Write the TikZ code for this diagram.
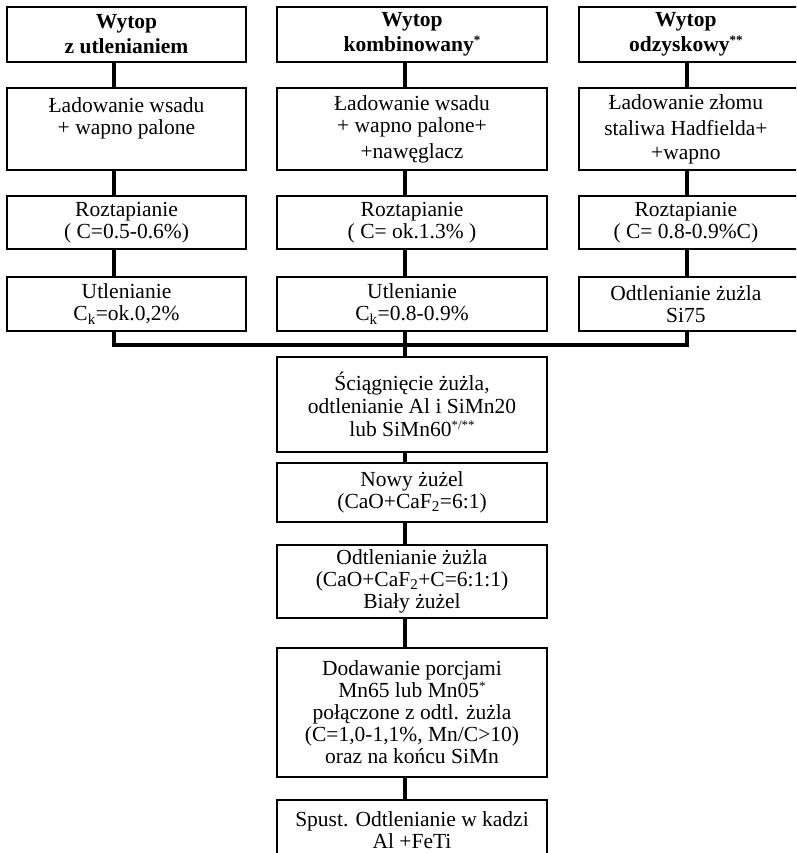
\documentclass[tikz,border=0pt]{standalone}
\usepackage{fontspec}
\setmainfont{Liberation Serif}
\newcommand{\supst}[1]{\raisebox{0.33em}{\fontsize{13}{13}\selectfont #1}}
\begin{document}
\begin{tikzpicture}[x=1pt,y=-1pt,
  box/.style={draw, line width=1.7pt, inner sep=0pt, align=center,
    font=\fontsize{21.5}{22}\selectfont},
  headbox/.style={box, font=\fontsize{21.5}{25}\selectfont\bfseries},
  conn/.style={line width=3.5pt}]
\clip (0,0) rectangle (796,853);
% columns
\coordinate (xL) at (114,0);
\coordinate (xM) at (405,0);
\coordinate (xR) at (687,0);
\coordinate (busy) at (0,345);
% row 1
\node[headbox, minimum width=239pt, minimum height=55pt] (a1) at (126.5,34.5) {Wytop\\z utlenianiem};
\node[headbox, minimum width=270pt, minimum height=55pt] (b1) at (412,34.5) {Wytop\\kombinowany\supst{*}};
\node[headbox, minimum width=232pt, minimum height=55pt, anchor=west] (c1) at (578,34.5) {\hspace*{-18pt}Wytop\\\hspace*{-18pt}odzyskowy\supst{**}};
% row 2
\node[box, minimum width=239pt, minimum height=82pt] (a2) at (126.5,129) {Ładowanie wsadu\\+ wapno palone\\[4pt]\mbox{}};
\node[box, minimum width=270pt, minimum height=82pt] (b2) at (412,129) {Ładowanie wsadu\\+ wapno palone+\\[4pt]+nawęglacz};
\node[box, minimum width=232pt, minimum height=82pt, anchor=west] (c2) at (578,129) {\hspace*{-18pt}Ładowanie złomu\\[4pt]\hspace*{-18pt}staliwa Hadfielda+\\[2pt]\hspace*{-18pt}+wapno};
% row 3
\node[box, minimum width=239pt, minimum height=53pt] (a3) at (126.5,222.5) {Roztapianie\\( C=0.5-0.6\%)};
\node[box, minimum width=270pt, minimum height=53pt] (b3) at (412,222.5) {Roztapianie\\( C= ok.1.3\% )};
\node[box, minimum width=232pt, minimum height=53pt, anchor=west] (c3) at (578,222.5) {\hspace*{-18pt}Roztapianie\\\hspace*{-18pt}( C= 0.8-0.9\%C)};
% row 4
\node[box, minimum width=239pt, minimum height=54pt] (a4) at (126.5,304) {Utlenianie\\C\textsubscript{k}=ok.0,2\%};
\node[box, minimum width=270pt, minimum height=54pt] (b4) at (412,304) {Utlenianie\\C\textsubscript{k}=0.8-0.9\%};
\node[box, minimum width=232pt, minimum height=54pt, anchor=west] (c4) at (578,304) {\hspace*{-18pt}Odtlenianie żużla\\\hspace*{-18pt}Si75};
% centre chain
\node[box, minimum width=270pt, minimum height=95pt] (m1) at (412,404.5) {Ściągnięcie żużla,\\[1pt]odtlenianie Al i SiMn20\\[1pt]lub SiMn60\supst{*/**}};
\node[box, minimum width=270pt, minimum height=59pt] (m2) at (412,492.5) {Nowy żużel\\(CaO+CaF\textsubscript{2}=6:1)};
\node[box, minimum width=270pt, minimum height=73pt] (m3) at (412,581.5) {Odtlenianie żużla\\(CaO+CaF\textsubscript{2}+C=6:1:1)\\Biały żużel};
\node[box, minimum width=270pt, minimum height=129pt] (m4) at (412,712.5) {Dodawanie porcjami\\Mn65 lub Mn05\supst{*}\\połączone z odtl. żużla\\(C=1,0-1,1\%, Mn/C>10)\\oraz na końcu SiMn};
\node[box, minimum width=270pt, minimum height=60pt] (m5) at (412,830) {Spust. Odtlenianie w kadzi\\Al +FeTi};
% connectors
\draw[conn] (a1.south -| xL) -- (a2.north -| xL);
\draw[conn] (a2.south -| xL) -- (a3.north -| xL);
\draw[conn] (a3.south -| xL) -- (a4.north -| xL);
\draw[conn] (b1.south -| xM) -- (b2.north -| xM);
\draw[conn] (b2.south -| xM) -- (b3.north -| xM);
\draw[conn] (b3.south -| xM) -- (b4.north -| xM);
\draw[conn] (c1.south -| xR) -- (c2.north -| xR);
\draw[conn] (c2.south -| xR) -- (c3.north -| xR);
\draw[conn] (c3.south -| xR) -- (c4.north -| xR);
\draw[conn, line join=miter] (a4.south -| xL) -- (xL |- busy) -- (xR |- busy) -- (c4.south -| xR);
\draw[conn] (b4.south -| xM) -- (m1.north -| xM);
\draw[conn] (m1.south -| xM) -- (m2.north -| xM);
\draw[conn] (m2.south -| xM) -- (m3.north -| xM);
\draw[conn] (m3.south -| xM) -- (m4.north -| xM);
\draw[conn] (m4.south -| xM) -- (m5.north -| xM);
\end{tikzpicture}
\end{document}
